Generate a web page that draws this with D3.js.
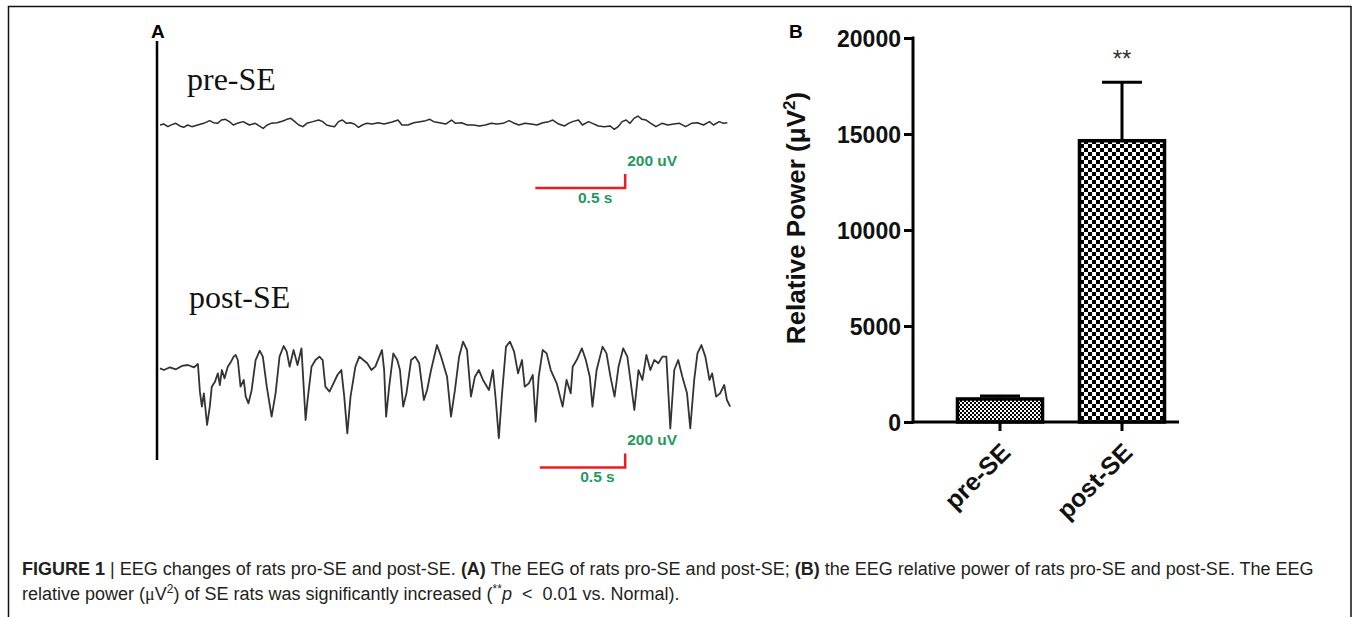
<!DOCTYPE html>
<html>
<head>
<meta charset="utf-8">
<script src="https://cdn.jsdelivr.net/npm/d3@7"></script>
<style>
  body { margin: 0; background: #fff; }
  svg { display: block; }
  .tracePath { fill: none; stroke-linejoin: round; }
  .scaleText { font-family: "Liberation Sans", Arial, sans-serif; font-weight: bold; font-size: 15.5px; fill: #1f9a5c; }
  .traceLabel { font-family: "Liberation Serif", "Times New Roman", serif; font-size: 32px; fill: #111; }
  .panelLabel { font-family: "Liberation Sans", Arial, sans-serif; font-weight: bold; font-size: 19px; }
  .barAxis text { font-family: "Liberation Sans", Arial, sans-serif; font-weight: bold; font-size: 23px; fill: #111; }
  .caption { font-family: "Liberation Sans", Arial, sans-serif; font-size: 18px; fill: #231f20; }
</style>
</head>
<body>
<div class="chart"></div>
<script>
// EEG traces, [time ms, amplitude uV]
var preSeTrace = [[0,0],[22,14],[44,-24],[66,5],[88,24],[110,-14],[132,-33],[154,0],[177,-24],[210,0],
  [243,24],[276,62],[298,33],[320,24],[342,71],[364,81],[386,48],[408,0],[430,24],[463,48],
  [497,0],[530,24],[552,-14],[574,-48],[596,0],[618,24],[651,33],[684,57],[706,81],[728,95],
  [750,48],[772,0],[795,-24],[817,24],[850,48],[883,71],[905,48],[927,0],[949,-14],[971,-24],
  [993,48],[1015,71],[1037,24],[1059,33],[1081,14],[1104,-33],[1126,0],[1148,24],[1181,14],[1214,33],
  [1247,14],[1291,43],[1324,71],[1346,0],[1379,0],[1412,33],[1446,48],[1479,62],[1501,81],[1523,48],
  [1556,33],[1589,14],[1622,71],[1644,24],[1677,33],[1710,0],[1744,0],[1777,-14],[1810,0],[1843,24],
  [1876,14],[1909,24],[1942,62],[1964,33],[1997,0],[2030,24],[2064,14],[2097,0],[2130,33],[2163,48],
  [2185,71],[2218,14],[2251,-14],[2273,24],[2295,48],[2328,71],[2350,0],[2384,48],[2406,24],[2439,-14],
  [2472,-24],[2505,-14],[2527,-62],[2549,-24],[2571,48],[2593,71],[2615,24],[2637,95],[2659,128],[2681,81],
  [2704,71],[2737,14],[2759,-24],[2792,24],[2825,0],[2858,14],[2891,24],[2924,-24],[2957,24],[2990,33],
  [3024,0],[3057,48],[3079,0],[3112,48],[3134,24],[3156,33]];

var postSeTrace = [[0,-5],[22,-29],[55,10],[89,-19],[122,29],[155,43],[189,10],[211,57],[222,-338],[233,-552],
  [244,-362],[262,-814],[277,-552],[288,-267],[306,-195],[322,-76],[333,-243],[344,-29],[359,-148],[377,19],
  [395,90],[410,162],[421,186],[433,114],[448,-267],[466,-171],[477,-409],[492,-505],[510,-314],[532,114],
  [555,248],[572,162],[594,-267],[621,-695],[643,-362],[665,162],[688,314],[705,233],[721,19],[743,257],
  [765,43],[787,281],[810,-743],[821,-457],[843,19],[865,114],[887,162],[905,114],[920,-267],[943,-338],
  [965,-219],[987,-100],[1009,-29],[1025,-409],[1042,-933],[1060,-409],[1087,19],[1109,162],[1131,114],[1153,67],
  [1176,-29],[1198,19],[1220,162],[1235,257],[1247,-29],[1258,-695],[1275,-267],[1298,209],[1320,114],[1335,-29],
  [1353,-552],[1371,-362],[1397,114],[1420,162],[1442,67],[1468,-457],[1486,-314],[1508,-29],[1541,328],[1564,162],
  [1597,-124],[1619,-695],[1641,-314],[1664,162],[1686,376],[1708,257],[1730,-409],[1752,-124],[1774,-29],[1797,-171],
  [1830,-314],[1852,-29],[1868,-457],[1885,-1004],[1903,-362],[1925,305],[1947,376],[1970,233],[1992,-76],[2014,114],
  [2029,-267],[2052,-219],[2074,-100],[2090,-766],[2107,-124],[2129,257],[2151,209],[2174,-29],[2207,-219],[2240,-552],
  [2262,-171],[2285,-362],[2296,19],[2318,114],[2347,281],[2369,114],[2391,-124],[2406,-552],[2429,-29],[2462,305],
  [2484,209],[2506,-124],[2529,-409],[2551,19],[2577,281],[2600,162],[2622,-267],[2639,-600],[2662,-29],[2684,-171],
  [2706,186],[2728,-29],[2750,114],[2773,67],[2795,162],[2817,162],[2839,-862],[2861,-29],[2883,114],[2906,-124],
  [2932,-362],[2950,-862],[2972,-171],[2990,209],[3012,328],[3034,162],[3057,-171],[3072,-76],[3094,-409],[3116,-362],
  [3139,-243],[3154,-457],[3172,-552]];

// scale bars
var scaleBarMs = 500;
var scaleBarUv = 200;

// panel B
var groups = ["pre-SE", "post-SE"];
var powerMean = [1200, 14650];
var powerSem = [150, 3050];
var powerTicks = [0, 5000, 10000, 15000, 20000];

var svgWidth = 1354;
var svgHeight = 617;

var svg = d3.select(".chart")
  .append("svg")
  .attr("width", svgWidth)
  .attr("height", svgHeight);

// fill patterns for the bars
var defs = svg.append("defs");
var fine = defs.append("pattern")
  .attr("id", "checkFine")
  .attr("patternUnits", "userSpaceOnUse")
  .attr("width", 4).attr("height", 4);
fine.append("rect").attr("width", 4).attr("height", 4).attr("fill", "#fff");
fine.append("rect").attr("width", 2).attr("height", 2).attr("fill", "#000");
fine.append("rect").attr("x", 2).attr("y", 2).attr("width", 2).attr("height", 2).attr("fill", "#000");

var coarse = defs.append("pattern")
  .attr("id", "checkCoarse")
  .attr("patternUnits", "userSpaceOnUse")
  .attr("width", 8).attr("height", 8);
coarse.append("rect").attr("width", 8).attr("height", 8).attr("fill", "#fff");
coarse.append("rect").attr("width", 4).attr("height", 4).attr("fill", "#000");
coarse.append("rect").attr("x", 4).attr("y", 4).attr("width", 4).attr("height", 4).attr("fill", "#000");

// frame
svg.append("path")
  .attr("d", "M8.5,617 V6.5 H1351 V617")
  .attr("fill", "none")
  .attr("stroke", "#111")
  .attr("stroke-width", 1.5);

// ==============================
// Panel A: EEG traces
// ==============================
var xTime = d3.scaleLinear()
  .domain([0, 3160])
  .range([160, 728]);

var yPre = d3.scaleLinear()
  .domain([-1000, 1000])
  .range([125 + 70, 125 - 70]);

var yPost = d3.scaleLinear()
  .domain([-1000, 1000])
  .range([368 + 70, 368 - 70]);

svg.append("text")
  .attr("class", "panelLabel")
  .attr("x", 151)
  .attr("y", 38)
  .text("A");

svg.append("line")
  .attr("x1", 157).attr("x2", 157)
  .attr("y1", 41).attr("y2", 460)
  .attr("stroke", "#000")
  .attr("stroke-width", 2.5);

svg.append("text")
  .attr("class", "traceLabel")
  .attr("x", 187)
  .attr("y", 90)
  .text("pre-SE");

svg.append("text")
  .attr("class", "traceLabel")
  .attr("x", 189)
  .attr("y", 308)
  .text("post-SE");

svg.append("path")
  .datum(preSeTrace)
  .attr("class", "tracePath")
  .attr("stroke", "#2b2b2b")
  .attr("stroke-width", 1.5)
  .attr("d", d3.line().x(d => xTime(d[0])).y(d => yPre(d[1])));

svg.append("path")
  .datum(postSeTrace)
  .attr("class", "tracePath")
  .attr("stroke", "#333")
  .attr("stroke-width", 1.8)
  .attr("d", d3.line().x(d => xTime(d[0])).y(d => yPost(d[1])));

function scaleBar(endMs, yScale, baseUv, startMs) {
  var x1 = xTime(startMs);
  var x2 = xTime(endMs);
  var y0 = yScale(baseUv);
  var y1 = yScale(baseUv + scaleBarUv);
  svg.append("path")
    .attr("d", `M${x1},${y0} H${x2} V${y1}`)
    .attr("fill", "none")
    .attr("stroke", "#ec1c24")
    .attr("stroke-width", 2.5);
  svg.append("text")
    .attr("class", "scaleText")
    .attr("x", x2 + 2)
    .attr("y", y1 - 8)
    .text(scaleBarUv + " uV");
  svg.append("text")
    .attr("class", "scaleText")
    .attr("x", (x1 + x2) / 2 + 15)
    .attr("y", y0 + 15)
    .attr("text-anchor", "middle")
    .text(scaleBarMs / 1000 + " s");
}
scaleBar(2588, yPre, -900, 2588 - scaleBarMs);
scaleBar(2588, yPost, -1420, 2588 - scaleBarMs * 0.95);

// ==============================
// Panel B: relative power
// ==============================
var yPower = d3.scaleLinear()
  .domain([0, 20000])
  .range([422, 38]);

var xGroup = d3.scaleBand()
  .domain(groups)
  .range([939, 1183])
  .paddingInner(0.303)
  .paddingOuter(0.1515);

svg.append("text")
  .attr("class", "panelLabel")
  .attr("x", 789)
  .attr("y", 38)
  .text("B");

var bars = svg.append("g");
bars.selectAll("rect")
  .data(groups)
  .enter()
  .append("rect")
  .attr("x", d => xGroup(d))
  .attr("y", (d, i) => yPower(powerMean[i]))
  .attr("width", xGroup.bandwidth())
  .attr("height", (d, i) => yPower(0) - yPower(powerMean[i]))
  .attr("fill", (d, i) => i == 0 ? "url(#checkFine)" : "url(#checkCoarse)")
  .attr("stroke", "#000")
  .attr("stroke-width", 3.5);

// error bars (upper only)
groups.forEach(function(g, i) {
  var cx = xGroup(g) + xGroup.bandwidth() / 2;
  svg.append("line")
    .attr("x1", cx).attr("x2", cx)
    .attr("y1", yPower(powerMean[i])).attr("y2", yPower(powerMean[i] + powerSem[i]))
    .attr("stroke", "#000").attr("stroke-width", 3);
  svg.append("line")
    .attr("x1", cx - 20).attr("x2", cx + 20)
    .attr("y1", yPower(powerMean[i] + powerSem[i])).attr("y2", yPower(powerMean[i] + powerSem[i]))
    .attr("stroke", "#000").attr("stroke-width", 3);
});

svg.append("text")
  .attr("x", xGroup("post-SE") + xGroup.bandwidth() / 2)
  .attr("y", 67)
  .attr("text-anchor", "middle")
  .attr("font-family", "Liberation Sans, Arial, sans-serif")
  .attr("font-size", 24)
  .attr("fill", "#333")
  .text("**");

var leftAxis = d3.axisLeft(yPower)
  .tickValues(powerTicks)
  .tickFormat(d3.format("d"))
  .tickSizeInner(9)
  .tickSizeOuter(0)
  .tickPadding(3);

var yAxisG = svg.append("g")
  .attr("class", "barAxis")
  .attr("transform", "translate(913,0)")
  .call(leftAxis);
yAxisG.select(".domain").attr("stroke-width", 3).attr("d", "M0,36.5V423.5");
yAxisG.selectAll(".tick line").attr("stroke-width", 3);
yAxisG.selectAll(".tick text").attr("dy", "0.36em");

var bottomAxis = d3.axisBottom(xGroup)
  .tickSizeInner(9)
  .tickSizeOuter(0);

var xAxisG = svg.append("g")
  .attr("class", "barAxis")
  .attr("transform", "translate(0,422)")
  .call(bottomAxis);
xAxisG.select(".domain").attr("stroke-width", 3).attr("d", "M911.5,0H1179");
xAxisG.selectAll(".tick line").attr("stroke-width", 3);
xAxisG.selectAll(".tick text")
  .attr("text-anchor", "end")
  .attr("y", 0)
  .attr("dy", "0")
  .attr("transform", "translate(12,32) rotate(-45)")
  .style("font-size", "25px");

// y axis label
var yLabel = svg.append("text")
  .attr("transform", "translate(805,218) rotate(-90)")
  .attr("text-anchor", "middle")
  .attr("font-family", "Liberation Sans, Arial, sans-serif")
  .attr("font-weight", "bold")
  .attr("font-size", 26)
  .attr("fill", "#111");
yLabel.append("tspan").text("Relative Power (μV");
yLabel.append("tspan").attr("dy", -10).attr("font-size", 17).text("2");
yLabel.append("tspan").attr("dy", 10).text(")");

// ==============================
// caption
// ==============================
var cap1 = svg.append("text")
  .attr("class", "caption")
  .attr("x", 22)
  .attr("y", 575);
cap1.append("tspan").attr("font-weight", "bold").text("FIGURE 1");
cap1.append("tspan").attr("xml:space", "preserve").text(" | EEG changes of rats pro-SE and post-SE. ");
cap1.append("tspan").attr("font-weight", "bold").text("(A)");
cap1.append("tspan").text(" The EEG of rats pro-SE and post-SE; ");
cap1.append("tspan").attr("font-weight", "bold").text("(B)");
cap1.append("tspan").text(" the EEG relative power of rats pro-SE and post-SE. The EEG");

var cap2 = svg.append("text")
  .attr("class", "caption")
  .attr("x", 22)
  .attr("y", 600);
cap2.append("tspan").text("relative power (");
cap2.append("tspan").attr("font-family", "Liberation Serif, serif").text("μ");
cap2.append("tspan").text("V");
cap2.append("tspan").attr("dy", -7).attr("font-size", 12).text("2");
cap2.append("tspan").attr("dy", 7).text(") of SE rats was significantly increased (");
cap2.append("tspan").attr("dy", -7).attr("font-size", 12).text("**");
cap2.append("tspan").attr("dy", 7).attr("font-style", "italic").text("p");
cap2.append("tspan").attr("xml:space", "preserve").text("  <  0.01 vs. Normal).");
</script>
</body>
</html>
